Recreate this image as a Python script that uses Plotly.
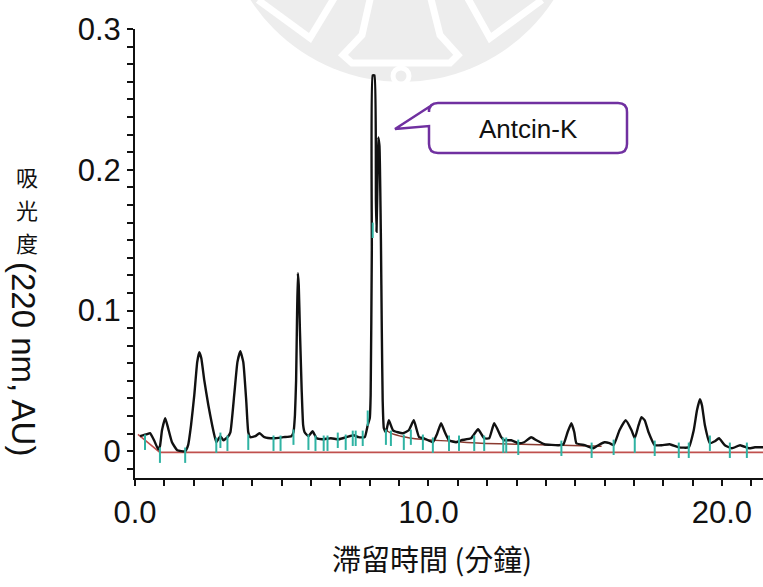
import plotly.graph_objects as go

# ---------------- data ----------------
time_min = [0.17, 0.41, 0.51, 0.65, 0.79, 0.85, 0.92, 1.03, 1.13, 1.26, 1.44, 1.71, 1.81, 1.91,
            2.02, 2.12, 2.19, 2.26, 2.36, 2.50, 2.63, 2.77, 2.91, 3.01, 3.15, 3.25, 3.38, 3.49,
            3.59, 3.69, 3.79, 3.86, 3.93, 4.10, 4.24, 4.41, 4.72, 5.06, 5.33, 5.40, 5.45, 5.49,
            5.52, 5.55, 5.58, 5.62, 5.68, 5.73, 5.78, 5.91, 6.05, 6.19, 6.39, 6.67, 6.94, 7.21,
            7.45, 7.62, 7.83, 7.93, 8.00, 8.03, 8.07, 8.10, 8.16, 8.21, 8.23, 8.27, 8.29, 8.33,
            8.38, 8.41, 8.44, 8.48, 8.55, 8.65, 8.79, 8.96, 9.13, 9.33, 9.50, 9.68, 9.85, 10.15,
            10.29, 10.43, 10.56, 10.70, 10.94, 11.11, 11.45, 11.69, 11.90, 12.07, 12.24, 12.48,
            12.58, 12.82, 13.06, 13.26, 13.50, 13.68, 13.95, 14.43, 14.60, 14.74, 14.87, 14.97,
            15.04, 15.32, 15.62, 15.79, 16.00, 16.17, 16.31, 16.51, 16.72, 16.92, 17.03, 17.16,
            17.26, 17.37, 17.50, 17.71, 17.95, 18.22, 18.53, 18.87, 19.04, 19.15, 19.25, 19.32,
            19.42, 19.59, 19.76, 19.90, 20.10, 20.34, 20.62, 20.92, 21.13, 21.47]
absorbance = [0.0107, 0.0121, 0.0128, 0.0078, 0.0014, 0.0036, 0.0149, 0.0235, 0.0163, 0.0064,
              0.0007, 0.0000, 0.0043, 0.0185, 0.0398, 0.0633, 0.0704, 0.0661, 0.0505, 0.0327,
              0.0185, 0.0064, 0.0107, 0.0078, 0.0100, 0.0135, 0.0398, 0.0633, 0.0711, 0.0633,
              0.0362, 0.0135, 0.0100, 0.0107, 0.0128, 0.0100, 0.0092, 0.0100, 0.0107, 0.0135,
              0.0256, 0.0505, 0.0931, 0.1265, 0.1180, 0.0860, 0.0434, 0.0185, 0.0135, 0.0107,
              0.0142, 0.0092, 0.0085, 0.0092, 0.0085, 0.0100, 0.0114, 0.0100, 0.0100, 0.0185,
              0.0235, 0.0398, 0.1429, 0.2670, 0.2670, 0.1780, 0.1560, 0.2000, 0.2230, 0.2170,
              0.1500, 0.0860, 0.0360, 0.0163, 0.0135, 0.0220, 0.0149, 0.0135, 0.0128, 0.0149,
              0.0220, 0.0100, 0.0092, 0.0064, 0.0121, 0.0199, 0.0135, 0.0078, 0.0064, 0.0078,
              0.0092, 0.0156, 0.0092, 0.0092, 0.0199, 0.0100, 0.0078, 0.0078, 0.0057, 0.0064,
              0.0100, 0.0078, 0.0050, 0.0043, 0.0050, 0.0135, 0.0199, 0.0135, 0.0057, 0.0043,
              0.0021, 0.0043, 0.0064, 0.0057, 0.0043, 0.0149, 0.0220, 0.0149, 0.0092, 0.0185,
              0.0242, 0.0220, 0.0135, 0.0043, 0.0043, 0.0050, 0.0028, 0.0028, 0.0149, 0.0291,
              0.0370, 0.0327, 0.0185, 0.0057, 0.0071, 0.0092, 0.0043, 0.0021, 0.0043, 0.0021,
              0.0028, 0.0028]

# integration markers (peak start / end)
marker_time = [0.34, 0.85, 1.71, 2.77, 2.91, 3.15, 3.86, 4.72, 4.96, 5.40, 5.91, 6.15, 6.43,
               6.56, 6.91, 7.18, 7.42, 7.52, 7.76, 7.93, 8.10, 8.55, 8.72, 9.16, 9.40, 9.81,
               10.15, 10.70, 11.04, 11.56, 11.90, 12.55, 12.65, 13.06, 14.53, 15.56, 16.31,
               17.03, 17.71, 18.53, 18.87, 19.59, 20.27, 20.85]
marker_abs = [0.0064, -0.0028, -0.0028, 0.0043, 0.0078, 0.0057, 0.0064, 0.0057, 0.0057, 0.0100,
              0.0064, 0.0057, 0.0057, 0.0057, 0.0078, 0.0064, 0.0092, 0.0092, 0.0092, 0.0235,
              0.1570, 0.0100, 0.0092, 0.0064, 0.0100, 0.0064, 0.0043, 0.0057, 0.0057, 0.0057,
              0.0057, 0.0043, 0.0043, 0.0028, 0.0021, 0.0007, 0.0028, 0.0043, 0.0021, 0.0007,
              0.0007, 0.0057, 0.0007, 0.0007]

# baselines
base1_time = [0.10, 0.85, 21.47]
base1_abs = [0.0120, -0.0008, -0.0008]
base2_time = [8.48, 8.72, 9.06, 9.74, 10.77, 11.79, 13.16, 14.53, 15.90]
base2_abs = [0.0163, 0.0128, 0.0107, 0.0085, 0.0071, 0.0057, 0.0050, 0.0043, 0.0036]

# axis ticks: every tick position, label only where the reference prints one
x_tick_vals = list(range(0, 22))
x_tick_labels = {0: "0.0", 10: "10.0", 20: "20.0"}
y_tick_vals = [round(-0.0125 + 0.0125 * i, 4) for i in range(26)]
y_tick_labels = {0.0: "0", 0.1: "0.1", 0.2: "0.2", 0.3: "0.3"}
x_tick_text = [x_tick_labels.get(v, "") for v in x_tick_vals]
y_tick_text = [y_tick_labels.get(v, "") for v in y_tick_vals]

# ---------------- layout geometry (pixels) ----------------
W, H = 763, 587
L, R, T, B = 135, 0, 29, 109
PW, PH = W - L - R, H - T - B


def P(px, py):
    return (px - L) / PW, (H - B - py) / PH


def Q(px, py):
    x, y = P(px, py)
    return f"{x:.5f},{y:.5f}"


def path(points, close=False):
    s = ""
    for i, (px, py) in enumerate(points):
        s += ("M" if i == 0 else "L") + Q(px, py) + " "
    return s + ("Z" if close else "")


fig = go.Figure()

fig.add_trace(go.Scatter(x=base1_time, y=base1_abs, mode="lines",
                         line=dict(color="#c0504d", width=1.6), hoverinfo="skip"))
fig.add_trace(go.Scatter(x=base2_time, y=base2_abs, mode="lines",
                         line=dict(color="#8a3a30", width=1.4, shape="spline"), hoverinfo="skip"))
fig.add_trace(go.Scatter(x=time_min, y=absorbance, mode="lines",
                         line=dict(color="#111111", width=2.4, shape="spline", smoothing=0.4)))
fig.add_trace(go.Scatter(x=marker_time, y=marker_abs, mode="markers",
                         marker=dict(symbol="line-ns", size=11,
                                     line=dict(color="#2fb3a3", width=2))))

shapes = []
# watermark disk
x0, y0 = P(221, 82)
x1, y1 = P(583, -280)
shapes.append(dict(type="circle", xref="paper", yref="paper", x0=x0, y0=y0, x1=x1, y1=y1,
                   fillcolor="#ededed", line=dict(width=0), layer="below"))
wm = dict(color="white", width=7)
shapes.append(dict(type="path", xref="paper", yref="paper", layer="below", line=wm,
                   path=path([(371, -5), (362, 35), (343, 55), (352, 63), (450, 63),
                              (458, 55), (440, 35), (430, -5)])))
shapes.append(dict(type="path", xref="paper", yref="paper", layer="below", line=wm,
                   path=path([(258, 0), (310, 38), (336, -5)])))
shapes.append(dict(type="path", xref="paper", yref="paper", layer="below", line=wm,
                   path=path([(466, -5), (490, 38), (542, 0)])))
cx0, cy0 = P(393, 84)
cx1, cy1 = P(409, 68)
shapes.append(dict(type="circle", xref="paper", yref="paper", layer="below",
                   x0=cx0, y0=cy0, x1=cx1, y1=cy1, line=dict(color="white", width=5)))

# callout box with pointer
bx0, by0, bx1, by1, rr = 429, 103, 627, 153, 9
call_path = (f"M{Q(395, 129)} L{Q(bx0, 107)} L{Q(bx0, by0 + rr)} "
             f"Q{Q(bx0, by0)} {Q(bx0 + rr, by0)} L{Q(bx1 - rr, by0)} Q{Q(bx1, by0)} {Q(bx1, by0 + rr)} "
             f"L{Q(bx1, by1 - rr)} Q{Q(bx1, by1)} {Q(bx1 - rr, by1)} L{Q(bx0 + rr, by1)} "
             f"Q{Q(bx0, by1)} {Q(bx0, by1 - rr)} L{Q(bx0, 126)} Z")
shapes.append(dict(type="path", xref="paper", yref="paper", path=call_path,
                   line=dict(color="#7030a0", width=2.5), fillcolor="white", layer="above"))

annotations = []


def note(px, py, text, size, family, angle=0):
    x, y = P(px, py)
    annotations.append(dict(x=x, y=y, xref="paper", yref="paper", text=text, showarrow=False,
                            xanchor="center", yanchor="middle", textangle=angle,
                            font=dict(family=family, size=size, color="#111")))


note(528, 129, "Antcin-K", 26, "Liberation Sans")
for ch, cyp in zip(["吸", "光", "度"], [176, 209, 242]):
    note(27, cyp, ch, 22, "Noto Sans CJK TC")
note(24, 359, "(220 nm, AU)", 33, "Liberation Sans", angle=90)
note(432, 558, "滯留時間 (分鐘)", 29, "Noto Sans CJK TC")

fig.update_layout(
    width=W, height=H, margin=dict(l=L, r=R, t=T, b=B),
    paper_bgcolor="white", plot_bgcolor="rgba(0,0,0,0)",
    showlegend=False, shapes=shapes, annotations=annotations,
    font=dict(family="Liberation Sans", color="#111"),
)
fig.update_xaxes(range=[0, 21.4], tickmode="array", tickvals=x_tick_vals, ticktext=x_tick_text,
                 ticks="outside", ticklen=6, tickwidth=2, tickcolor="#111",
                 showline=True, linecolor="#111", linewidth=2, showgrid=False, zeroline=False,
                 tickfont=dict(size=31, family="Liberation Sans", color="#111"))
fig.update_yaxes(range=[-0.019, 0.3], tickmode="array", tickvals=y_tick_vals, ticktext=y_tick_text,
                 ticks="outside", ticklen=6, tickwidth=2, tickcolor="#111",
                 showline=True, linecolor="#111", linewidth=2, showgrid=False, zeroline=False,
                 tickfont=dict(size=31, family="Liberation Sans", color="#111"))

fig.write_html("out.html")
